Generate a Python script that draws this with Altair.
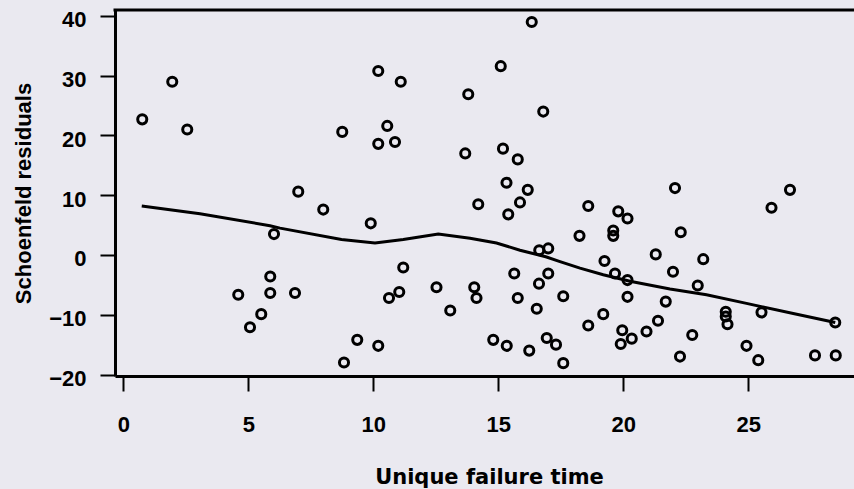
import altair as alt
import pandas as pd

# Unique failure times and Schoenfeld residuals
fail_time = [0.76, 1.96, 2.56, 4.6, 5.07, 5.52, 5.88, 5.88, 6.03, 6.87,
             7.0, 8.0, 8.76, 8.83, 9.36, 9.9, 10.2, 10.2, 10.2, 10.56,
             10.63, 10.87, 11.04, 11.1, 11.2, 12.53, 13.08, 13.68, 13.8, 14.04,
             14.13, 14.2, 14.8, 15.1, 15.19, 15.33, 15.34, 15.4, 15.64, 15.78,
             15.78, 15.87, 16.18, 16.24, 16.34, 16.54, 16.63, 16.64, 16.8, 16.94,
             17.0, 17.0, 17.31, 17.6, 17.6, 18.25, 18.6, 18.6, 19.2, 19.25,
             19.6, 19.6, 19.67, 19.8, 19.9, 19.96, 20.17, 20.17, 20.17, 20.34,
             20.93, 21.3, 21.39, 21.7, 21.99, 22.07, 22.27, 22.3, 22.76, 22.98,
             23.2, 24.1, 24.1, 24.17, 24.93, 25.4, 25.53, 25.93, 26.67, 27.67,
             28.5, 28.48]
residual = [22.7, 29.0, 21.0, -6.65, -12.1, -9.9, -3.6, -6.35, 3.5, -6.35,
            10.6, 7.6, 20.6, -18.0, -14.2, 5.3, 30.8, 18.6, -15.2, 21.6,
            -7.2, 18.9, -6.2, 29.0, -2.1, -5.4, -9.3, 17.0, 26.9, -5.4,
            -7.2, 8.5, -14.2, 31.6, 17.8, 12.1, -15.2, 6.8, -3.1, 16.0,
            -7.2, 8.8, 10.9, -16.0, 39.0, -9.0, -4.8, 0.8, 24.0, -13.9,
            1.1, -3.1, -15.0, -6.9, -18.1, 3.2, 8.2, -11.8, -9.9, -1.0,
            4.1, 3.2, -3.1, 7.3, -14.9, -12.6, 6.1, -4.2, -7.0, -14.0,
            -12.8, 0.1, -11.0, -7.8, -2.8, 11.2, -17.0, 3.8, -13.4, -5.1,
            -0.7, -9.5, -10.3, -11.6, -15.2, -17.6, -9.6, 7.9, 10.9, -16.8,
            -16.8, -11.3]

# Smoothed curve
smooth_time = [0.74, 3.07, 5.87, 6.27, 8.73, 10.07, 11.2, 12.6, 13.87, 14.93,
               15.87, 16.9, 17.47, 18.27, 19.2, 20.27, 21.87, 23.33, 24.93, 26.8,
               28.48]
smooth_resid = [8.2, 6.9, 4.9, 4.5, 2.6, 2.0, 2.6, 3.5, 2.8, 2.0,
                0.8, -0.3, -1.1, -2.2, -3.3, -4.4, -5.7, -6.65, -8.1, -9.8,
                -11.3]

x_ticks = [0, 5, 10, 15, 20, 25]
y_ticks = [-20, -10, 0, 10, 20, 30, 40]

pts = pd.DataFrame({"t": fail_time, "r": residual})
sm = pd.DataFrame({"t": smooth_time, "r": smooth_resid})

W, H = 739, 366
xscale = alt.Scale(domain=[-0.33, 29.23], nice=False, zero=False)
yscale = alt.Scale(domain=[-20.25, 41.0], nice=False, zero=False)

LABEL_FONT = "Liberation Sans"

x_axis = alt.Axis(
    values=x_ticks, grid=False, title="Unique failure time",
    domainColor="black", domainWidth=3, tickColor="black", tickWidth=2,
    tickSize=15, labelFont=LABEL_FONT, labelFontSize=22, labelFontWeight="bold",
    labelColor="black", labelBaseline="alphabetic", labelPadding=40,
    titleFont="DejaVu Sans", titleFontSize=21, titleFontWeight="bold",
    titleColor="black", titleBaseline="alphabetic", titleX=374, titleY=107,
    titleAlign="center",
)
y_axis = alt.Axis(
    values=y_ticks, grid=False, title="Schoenfeld residuals",
    domainColor="black", domainWidth=3, tickColor="black", tickWidth=2,
    tickSize=15, labelFont=LABEL_FONT, labelFontSize=22, labelFontWeight="bold",
    labelColor="black", labelBaseline="alphabetic", labelOffset=11, labelPadding=14,
    titleFont=LABEL_FONT, titleFontSize=22, titleFontWeight="bold",
    titleColor="black", titleAngle=270, titleBaseline="alphabetic",
    titleX=-85, titleY=183, titleAlign="center",
)

points = alt.Chart(pts).mark_point(
    shape="circle", filled=False, stroke="black", strokeWidth=3, size=83, opacity=1
).encode(
    x=alt.X("t:Q", scale=xscale, axis=x_axis),
    y=alt.Y("r:Q", scale=yscale, axis=y_axis),
)

line = alt.Chart(sm).mark_line(color="black", strokeWidth=3).encode(
    x=alt.X("t:Q", scale=xscale),
    y=alt.Y("r:Q", scale=yscale),
)

top_border = alt.Chart(pd.DataFrame({"a": [0]})).mark_rule(
    color="black", strokeWidth=3
).encode(x=alt.value(-1.5), x2=alt.value(W + 20), y=alt.value(0))

chart = alt.layer(points, line, top_border).properties(
    width=W, height=H,
    autosize=alt.AutoSizeParams(type="none"),
    padding={"left": 115, "top": 10, "right": 0, "bottom": 113},
    background="#EAE9F0",
).configure_view(stroke=None)

chart.save("out.html", embed_options={"renderer": "svg", "actions": False})
